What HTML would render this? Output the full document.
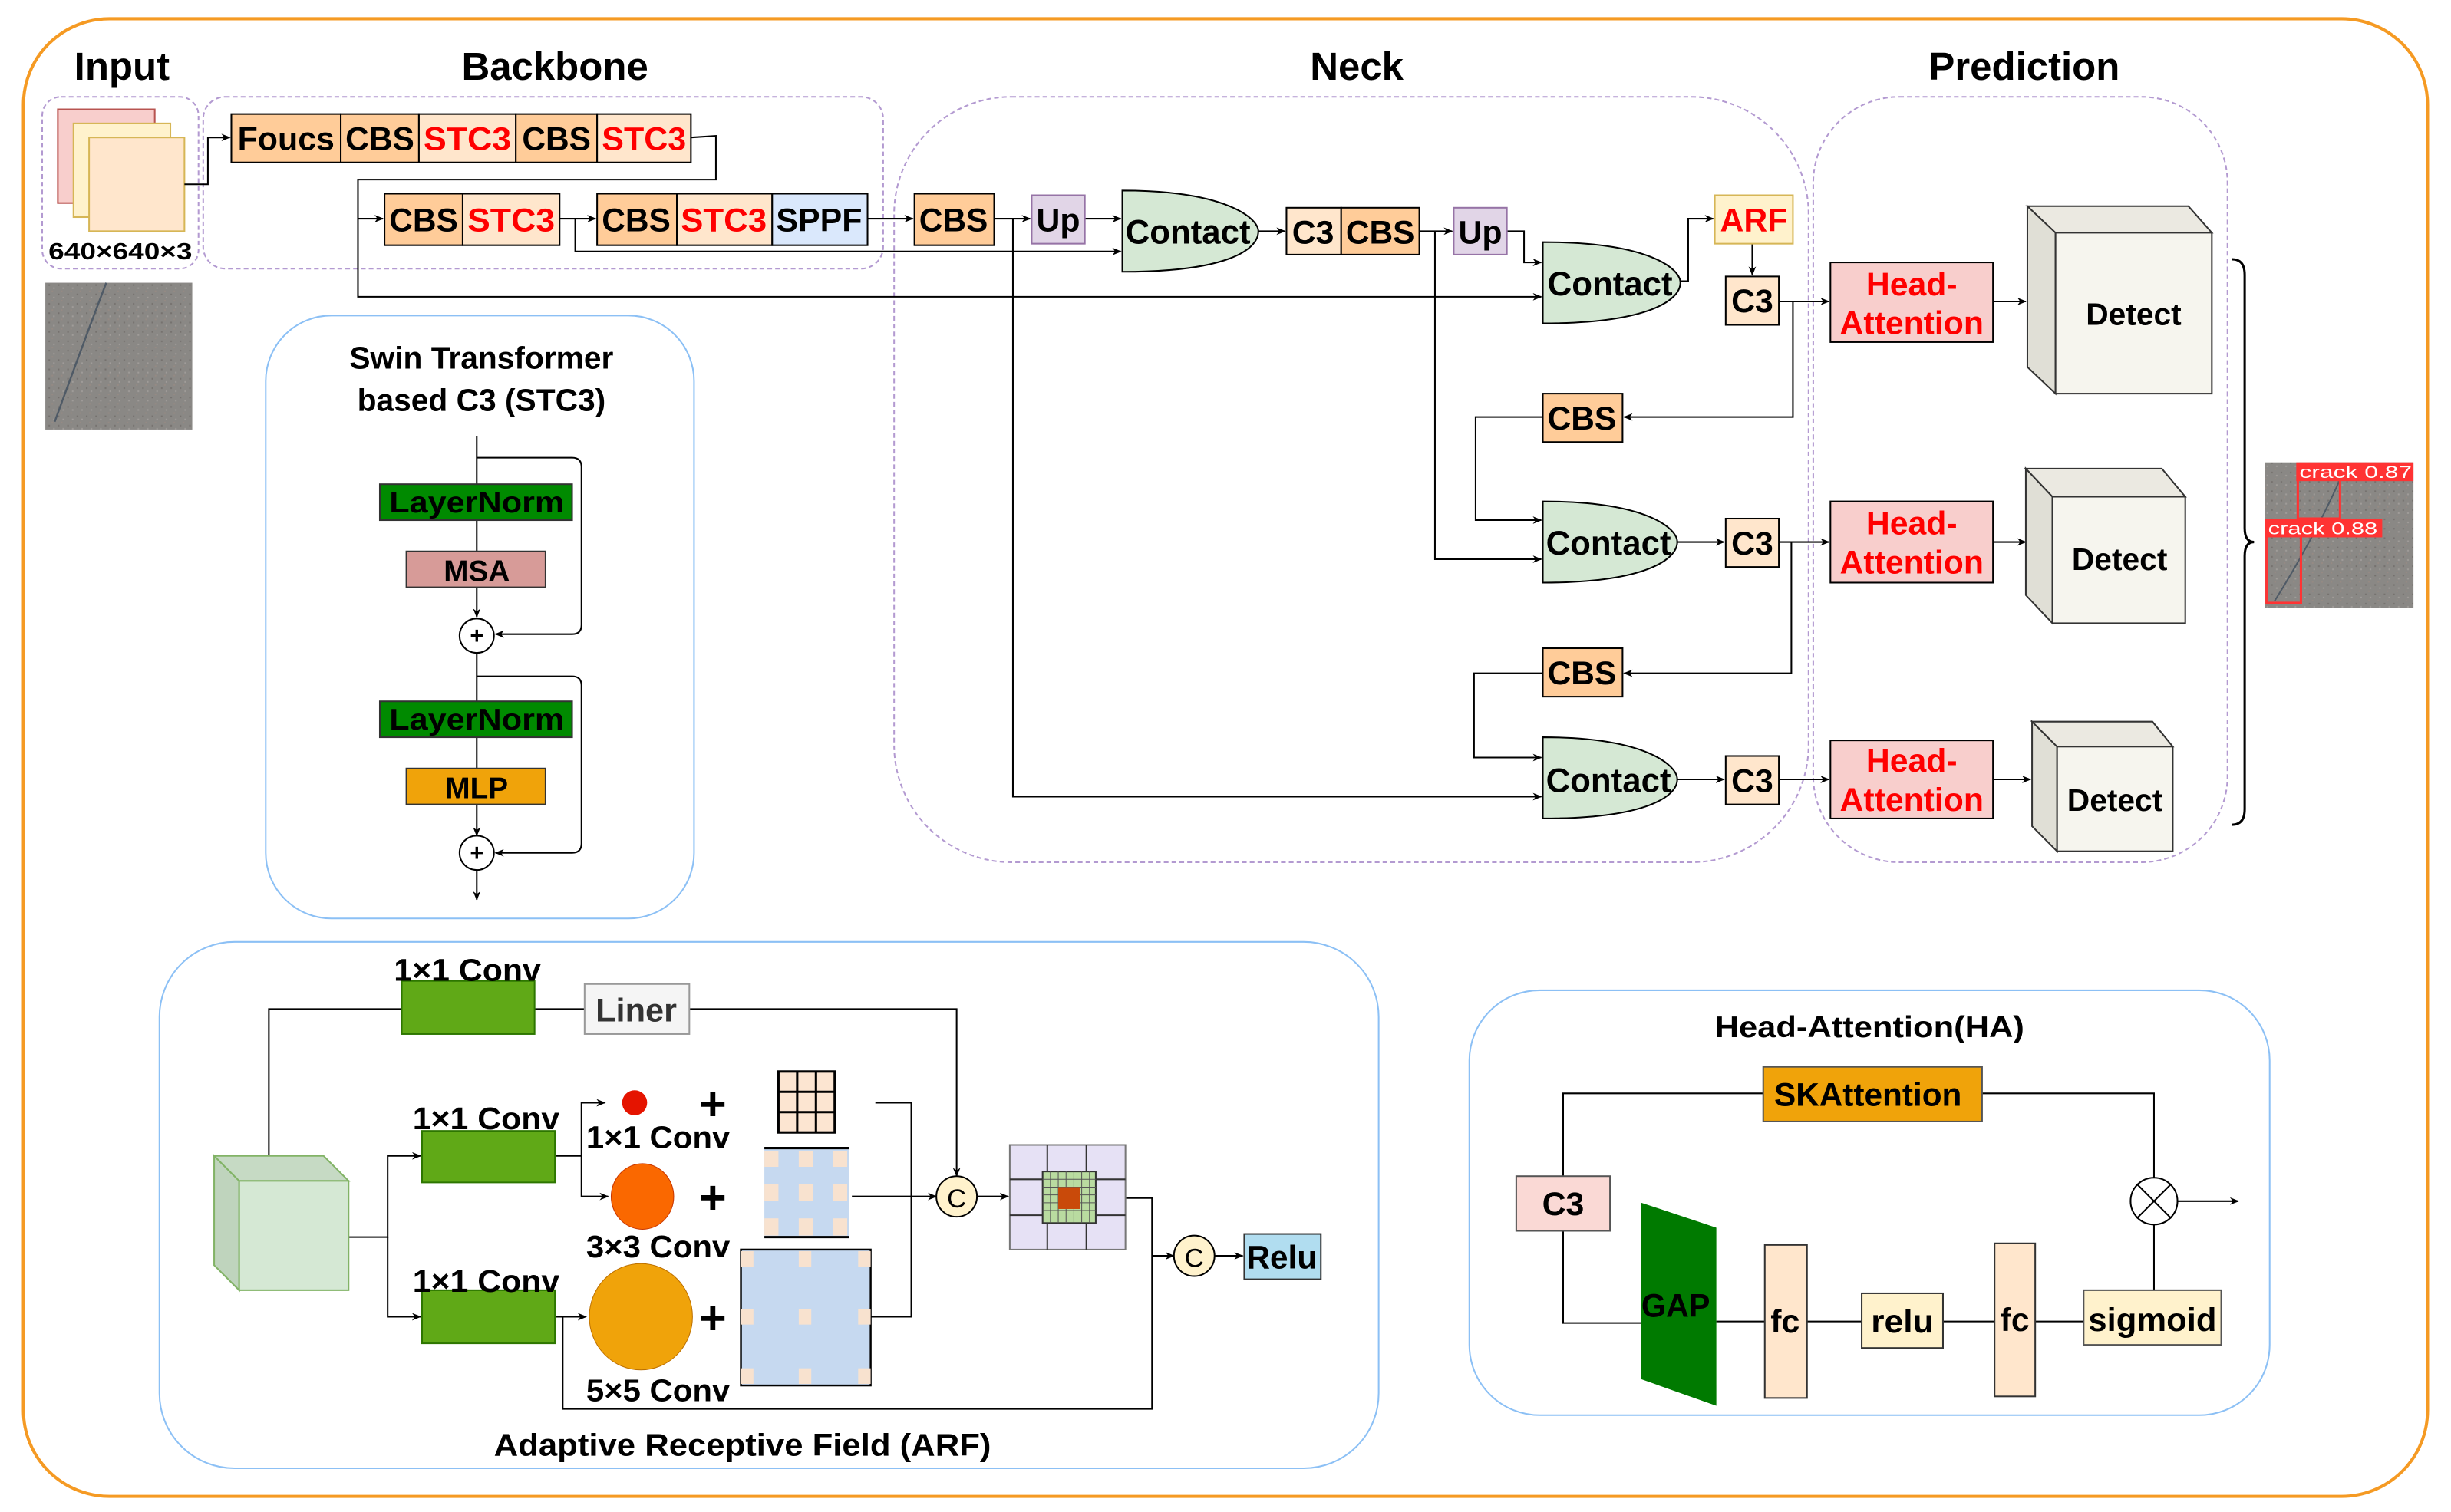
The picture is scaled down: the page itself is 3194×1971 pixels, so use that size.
<!DOCTYPE html>
<html><head><meta charset="utf-8"><style>
html,body{margin:0;padding:0;background:#fff;}
svg{display:block;}
text{font-family:"Liberation Sans Narrow","Liberation Sans",sans-serif;font-weight:bold;}
.w{font-family:"Liberation Sans",sans-serif;}
</style></head><body>
<svg width="3194" height="1971" viewBox="0 0 1568 968" preserveAspectRatio="none" xmlns="http://www.w3.org/2000/svg">
<defs>
<marker id="a" viewBox="0 0 10 10" refX="9" refY="5" markerWidth="6" markerHeight="6" orient="auto"><path d="M0,1 L10,5 L0,9 L3,5 Z" fill="#000"/></marker>
<pattern id="noise" width="6" height="6" patternUnits="userSpaceOnUse"><rect width="6" height="6" fill="#8a8885"/><rect x="1" y="2" width="1" height="1" fill="#75716e"/><rect x="4" y="4" width="1" height="1" fill="#a09c99"/><rect x="3" y="0" width="1" height="1" fill="#958a84"/></pattern>
</defs>
<g fill="none" stroke="#000" stroke-width="1">
<rect x="15" y="12" width="1538" height="946" rx="55" stroke="#f59a23" stroke-width="2"/>
<g stroke="#b39ad1" stroke-dasharray="3,2">
<rect x="27" y="62" width="100" height="110" rx="12"/>
<rect x="130" y="62" width="435" height="110" rx="14"/>
<rect x="572" y="62" width="585" height="490" rx="75"/>
<rect x="1160" y="62" width="265" height="490" rx="55"/>
</g>
<g stroke="#8cc0f5">
<rect x="170" y="202" width="274" height="386" rx="42"/>
<rect x="102" y="603" width="780" height="337" rx="48"/>
<rect x="940" y="634" width="512" height="272" rx="45"/>
</g>
</g>
<g font-size="25" text-anchor="middle">
<text x="78" y="51">Input</text><text x="355" y="51">Backbone</text><text x="868" y="51">Neck</text><text x="1295" y="51">Prediction</text>
</g>
<rect x="37" y="70" width="62" height="60" fill="#f8cecc" stroke="#b85450"/>
<rect x="47" y="79" width="62" height="60" fill="#fff2cc" stroke="#d6b656"/>
<rect x="57" y="88" width="61" height="60" fill="#ffe6cc" stroke="#d6b656"/>
<text x="77" y="166" font-size="15" text-anchor="middle" textLength="92" lengthAdjust="spacingAndGlyphs">640×640×3</text>
<rect x="29" y="181" width="94" height="94" fill="url(#noise)"/>
<path d="M68,181 Q55,215 35,270" stroke="#4f5a66" stroke-width="1.2" fill="none"/>
<g fill="none" stroke="#000" stroke-width="1">
<path d="M118,118 H133 V88 H147" marker-end="url(#a)"/>
<path d="M442,88 L458,87 V115 H229 V140 H245" marker-end="url(#a)"/>
<path d="M229,140 V190 H986" marker-end="url(#a)"/>
<path d="M358,140 H381" marker-end="url(#a)"/>
<path d="M368,140 V161 H717" marker-end="url(#a)"/>
<path d="M555,140 H584" marker-end="url(#a)"/>
<path d="M636,140 H659" marker-end="url(#a)"/>
<path d="M694,140 H717" marker-end="url(#a)"/>
<path d="M648,140 V510 H986" marker-end="url(#a)"/>
<path d="M805,148 H822" marker-end="url(#a)"/>
<path d="M908,148 H929" marker-end="url(#a)"/>
<path d="M918,148 V358 H986" marker-end="url(#a)"/>
<path d="M964,148 H975 V168 H986" marker-end="url(#a)"/>
<path d="M1075,180 H1080 V140 H1096" marker-end="url(#a)"/>
<path d="M1121,156 V176" marker-end="url(#a)"/>
<path d="M1138,193 H1170" marker-end="url(#a)"/>
<path d="M1147,193 V267 H1039" marker-end="url(#a)"/>
<path d="M987,267 H944 V333 H986" marker-end="url(#a)"/>
<path d="M1073,347 H1103" marker-end="url(#a)"/>
<path d="M1138,347 H1170" marker-end="url(#a)"/>
<path d="M1146,347 V431 H1039" marker-end="url(#a)"/>
<path d="M987,431 H943 V485 H986" marker-end="url(#a)"/>
<path d="M1073,499 H1103" marker-end="url(#a)"/>
<path d="M1138,499 H1170" marker-end="url(#a)"/>
<path d="M1275,193 H1296" marker-end="url(#a)"/>
<path d="M1275,347 H1296" marker-end="url(#a)"/>
<path d="M1275,499 H1299" marker-end="url(#a)"/>
<path d="M1428,166 Q1436,166 1436,176 V338 Q1436,347 1442,347 Q1436,347 1436,356 V518 Q1436,528 1428,528" stroke-width="1.5"/>
</g>
<g stroke="#000" stroke-width="1">
<rect x="148" y="73" width="70" height="31" fill="#ffcc99"/>
<rect x="218" y="73" width="50" height="31" fill="#ffcc99"/>
<rect x="268" y="73" width="62" height="31" fill="#ffe6cc"/>
<rect x="330" y="73" width="52" height="31" fill="#ffcc99"/>
<rect x="382" y="73" width="60" height="31" fill="#ffe6cc"/>
<rect x="246" y="124" width="50" height="33" fill="#ffcc99"/>
<rect x="296" y="124" width="62" height="33" fill="#ffe6cc"/>
<rect x="382" y="124" width="51" height="33" fill="#ffcc99"/>
<rect x="433" y="124" width="61" height="33" fill="#ffe6cc"/>
<rect x="494" y="124" width="61" height="33" fill="#dae8fc"/>
<rect x="585" y="124" width="51" height="33" fill="#ffcc99"/>
<rect x="660" y="125" width="34" height="31" fill="#e1d5e7" stroke="#9673a6"/>
<rect x="823" y="133" width="35" height="30" fill="#ffe6cc"/>
<rect x="858" y="133" width="50" height="30" fill="#ffcc99"/>
<rect x="930" y="133" width="34" height="30" fill="#e1d5e7" stroke="#9673a6"/>
<rect x="1097" y="125" width="50" height="31" fill="#fff2cc" stroke="#d6b656"/>
<rect x="1104" y="177" width="34" height="31" fill="#ffe6cc"/>
<rect x="987" y="252" width="51" height="31" fill="#ffcc99"/>
<rect x="1104" y="332" width="34" height="31" fill="#ffe6cc"/>
<rect x="987" y="415" width="51" height="31" fill="#ffcc99"/>
<rect x="1104" y="484" width="34" height="31" fill="#ffe6cc"/>
</g>
<g font-size="21" text-anchor="middle" lengthAdjust="spacingAndGlyphs">
<text x="183" y="96" textLength="62" lengthAdjust="spacingAndGlyphs">Foucs</text>
<text x="243" y="96" textLength="44" lengthAdjust="spacingAndGlyphs">CBS</text>
<text x="299" y="96" fill="#f00" textLength="56" lengthAdjust="spacingAndGlyphs">STC3</text>
<text x="356" y="96" textLength="44" lengthAdjust="spacingAndGlyphs">CBS</text>
<text x="412" y="96" fill="#f00" textLength="54" lengthAdjust="spacingAndGlyphs">STC3</text>
<text x="271" y="148" textLength="44" lengthAdjust="spacingAndGlyphs">CBS</text>
<text x="327" y="148" fill="#f00" textLength="56" lengthAdjust="spacingAndGlyphs">STC3</text>
<text x="407" y="148" textLength="44" lengthAdjust="spacingAndGlyphs">CBS</text>
<text x="463" y="148" fill="#f00" textLength="55" lengthAdjust="spacingAndGlyphs">STC3</text>
<text x="524" y="148" textLength="55" lengthAdjust="spacingAndGlyphs">SPPF</text>
<text x="610" y="148" textLength="44" lengthAdjust="spacingAndGlyphs">CBS</text>
<text x="677" y="148">Up</text>
<text x="840" y="156">C3</text>
<text x="883" y="156" textLength="44" lengthAdjust="spacingAndGlyphs">CBS</text>
<text x="947" y="156">Up</text>
<text x="1122" y="148" fill="#f00">ARF</text>
<text x="1121" y="200">C3</text>
<text x="1012" y="275" textLength="44" lengthAdjust="spacingAndGlyphs">CBS</text>
<text x="1121" y="355">C3</text>
<text x="1012" y="438" textLength="44" lengthAdjust="spacingAndGlyphs">CBS</text>
<text x="1121" y="507">C3</text>
</g>
<g fill="#d5e8d4" stroke="#000" stroke-width="1">
<path d="M718,122 C785,122 805,140 805,148 C805,160 785,174 718,174 Z"/>
<path d="M987,155 C1055,155 1075,172 1075,181 C1075,192 1055,207 987,207 Z"/>
<path d="M987,321 C1053,321 1073,338 1073,347 C1073,358 1053,373 987,373 Z"/>
<path d="M987,472 C1053,472 1073,490 1073,499 C1073,510 1053,524 987,524 Z"/>
</g>
<g font-size="22" text-anchor="middle">
<text x="760" y="156" textLength="80" lengthAdjust="spacingAndGlyphs">Contact</text><text x="1030" y="189" textLength="80" lengthAdjust="spacingAndGlyphs">Contact</text><text x="1029" y="355" textLength="80" lengthAdjust="spacingAndGlyphs">Contact</text><text x="1029" y="507" textLength="80" lengthAdjust="spacingAndGlyphs">Contact</text>
</g>
<g stroke="#000" fill="#f8cecc">
<rect x="1171" y="168" width="104" height="51"/><rect x="1171" y="321" width="104" height="52"/><rect x="1171" y="474" width="104" height="50"/>
</g>
<g font-size="21" text-anchor="middle" fill="#f00">
<text x="1223" y="189">Head-</text><text x="1223" y="214" textLength="92" lengthAdjust="spacingAndGlyphs">Attention</text>
<text x="1223" y="342">Head-</text><text x="1223" y="367" textLength="92" lengthAdjust="spacingAndGlyphs">Attention</text>
<text x="1223" y="494">Head-</text><text x="1223" y="519" textLength="92" lengthAdjust="spacingAndGlyphs">Attention</text>
</g>
<g stroke="#333" stroke-width="1">
<path d="M1297,132 L1315,149 V252 L1297,235 Z" fill="#e0dfd6"/><path d="M1297,132 H1400 L1415,149 H1315 Z" fill="#ebe9e1"/><rect x="1315" y="149" width="100" height="103" fill="#f6f5ee"/>
<path d="M1296,300 L1313,318 V399 L1296,381 Z" fill="#e0dfd6"/><path d="M1296,300 H1383 L1398,318 H1313 Z" fill="#ebe9e1"/><rect x="1313" y="318" width="85" height="81" fill="#f6f5ee"/>
<path d="M1300,462 L1316,478 V545 L1300,529 Z" fill="#e0dfd6"/><path d="M1300,462 H1377 L1390,478 H1316 Z" fill="#ebe9e1"/><rect x="1316" y="478" width="74" height="67" fill="#f6f5ee"/>
</g>
<g font-size="20" text-anchor="middle">
<text class="w" x="1365" y="208">Detect</text><text class="w" x="1356" y="365">Detect</text><text class="w" x="1353" y="519">Detect</text>
</g>
<rect x="1449" y="296" width="95" height="93" fill="url(#noise)"/>
<path d="M1497,307 Q1480,345 1455,385" stroke="#4f5a66" stroke-width="1" fill="none"/>
<g fill="none" stroke="#f33" stroke-width="1.5"><rect x="1470" y="307" width="27" height="25"/><rect x="1450" y="343" width="22" height="43"/></g>
<rect x="1469" y="296" width="75" height="12" fill="#f33"/><rect x="1449" y="332" width="75" height="12" fill="#f33"/>
<g font-size="11" fill="#fff"><text class="w" x="1471" y="306" style="font-weight:normal" textLength="72" lengthAdjust="spacingAndGlyphs">crack 0.87</text><text class="w" x="1451" y="342" style="font-weight:normal" textLength="70" lengthAdjust="spacingAndGlyphs">crack 0.88</text></g>

<g font-size="20" text-anchor="middle"><text class="w" x="308" y="236">Swin Transformer</text><text class="w" x="308" y="263">based C3 (STC3)</text></g>
<g fill="none" stroke="#000">
<path d="M305,279 V395" marker-end="url(#a)"/>
<path d="M305,293 H366 Q372,293 372,299 V400 Q372,406 366,406 H317" marker-end="url(#a)"/>
<path d="M305,418 V535" marker-end="url(#a)"/>
<path d="M305,433 H366 Q372,433 372,439 V540 Q372,546 366,546 H317" marker-end="url(#a)"/>
<path d="M305,557 V576" marker-end="url(#a)"/>
<circle cx="305" cy="407" r="11" fill="#fff"/><circle cx="305" cy="546" r="11" fill="#fff"/>
</g>
<g font-size="15" text-anchor="middle"><text class="w" x="305" y="412">+</text><text class="w" x="305" y="551">+</text></g>
<g stroke="#333">
<rect x="243" y="310" width="123" height="23" fill="#008a00"/><rect x="260" y="353" width="89" height="23" fill="#d79b98"/>
<rect x="243" y="449" width="123" height="23" fill="#008a00"/><rect x="260" y="492" width="89" height="23" fill="#f0a30a"/>
</g>
<g font-size="19" text-anchor="middle"><text class="w" x="305" y="328" textLength="112" lengthAdjust="spacingAndGlyphs">LayerNorm</text><text class="w" x="305" y="372">MSA</text><text class="w" x="305" y="467" textLength="112" lengthAdjust="spacingAndGlyphs">LayerNorm</text><text class="w" x="305" y="511">MLP</text></g>

<g fill="none" stroke="#000">
<path d="M172,740 V646 H257"/><path d="M342,646 H374"/>
<path d="M441,646 H612 V753" marker-end="url(#a)"/>
<path d="M223,792 H248 V740 H269" marker-end="url(#a)"/><path d="M248,792 V843 H269" marker-end="url(#a)"/>
<path d="M355,740 H372 V706 H387" marker-end="url(#a)"/><path d="M372,740 V766 H389" marker-end="url(#a)"/>
<path d="M355,843 H375" marker-end="url(#a)"/>
<path d="M360,843 V902 H737 V767 H720"/>
<path d="M560,706 H583 V843 H557"/>
<path d="M545,766 H599" marker-end="url(#a)"/>
<path d="M625,766 H645" marker-end="url(#a)"/>
<path d="M737,804 H751" marker-end="url(#a)"/>
<path d="M777,804 H795" marker-end="url(#a)"/>
</g>
<path d="M137,740 L153,756 V826 L137,810 Z" fill="#bfd4bd" stroke="#82b366"/><path d="M137,740 H207 L223,756 H153 Z" fill="#c6dac4" stroke="#82b366"/>
<rect x="153" y="756" width="70" height="70" fill="#d5e8d4" stroke="#82b366"/>
<g fill="#60a917" stroke="#2d7600"><rect x="257" y="628" width="85" height="34"/><rect x="270" y="724" width="85" height="33"/><rect x="270" y="826" width="85" height="34"/></g>
<rect x="374" y="630" width="67" height="32" fill="#f5f5f5" stroke="#999"/>
<text x="407" y="654" font-size="21" text-anchor="middle" fill="#333" textLength="52" lengthAdjust="spacingAndGlyphs">Liner</text>
<g font-size="20" text-anchor="middle">
<text x="299" y="628" textLength="94" lengthAdjust="spacingAndGlyphs">1×1 Conv</text><text x="311" y="723" textLength="94" lengthAdjust="spacingAndGlyphs">1×1 Conv</text><text x="311" y="827" textLength="94" lengthAdjust="spacingAndGlyphs">1×1 Conv</text>
<text x="421" y="735" textLength="92" lengthAdjust="spacingAndGlyphs">1×1 Conv</text><text x="421" y="805" textLength="92" lengthAdjust="spacingAndGlyphs">3×3 Conv</text><text x="421" y="897" textLength="92" lengthAdjust="spacingAndGlyphs">5×5 Conv</text>
</g>
<ellipse cx="406" cy="706" rx="8" ry="8" fill="#e51400"/>
<ellipse cx="411" cy="766" rx="20" ry="21" fill="#fa6800" stroke="#c73500" stroke-width=".5"/>
<ellipse cx="410" cy="843" rx="33" ry="34" fill="#f0a30a" stroke="#bd7000" stroke-width=".5"/>
<g font-size="30" text-anchor="middle"><text class="w" x="456" y="717">+</text><text class="w" x="456" y="777">+</text><text class="w" x="456" y="854">+</text></g>
<rect x="498" y="686" width="36" height="39" fill="#fce5d1" stroke="#000" stroke-width="1.5"/>
<path d="M510,686 V725 M522,686 V725 M498,699 H534 M498,712 H534" stroke="#000" stroke-width="1.5"/>
<rect x="489" y="735" width="54" height="57" fill="#c6d9f0"/>
<path d="M489,735 H543 M489,792 H543" stroke="#000" stroke-width="1.5"/>
<g fill="#f8e2cf"><rect x="489" y="737" width="9" height="10"/><rect x="511" y="737" width="9" height="10"/><rect x="533" y="737" width="9" height="10"/>
<rect x="489" y="758" width="9" height="11"/><rect x="511" y="758" width="9" height="11"/><rect x="533" y="758" width="9" height="11"/>
<rect x="489" y="780" width="9" height="11"/><rect x="511" y="780" width="9" height="11"/><rect x="533" y="780" width="9" height="11"/></g>
<rect x="474" y="800" width="83" height="87" fill="#c6d9f0" stroke="#000" stroke-width="1.2"/>
<g fill="#f8e2cf"><rect x="474" y="801" width="8" height="10"/><rect x="511" y="801" width="8" height="10"/><rect x="549" y="801" width="8" height="10"/>
<rect x="474" y="838" width="8" height="10"/><rect x="511" y="838" width="8" height="10"/><rect x="549" y="838" width="8" height="10"/>
<rect x="474" y="876" width="8" height="10"/><rect x="511" y="876" width="8" height="10"/><rect x="549" y="876" width="8" height="10"/></g>
<rect x="646" y="733" width="74" height="67" fill="#e6e1f5" stroke="#777"/>
<path d="M670,733 V800 M695,733 V800 M646,755 H720 M646,778 H720" stroke="#333"/>
<rect x="667" y="750" width="34" height="33" fill="#b9dba0" stroke="#333"/>
<path d="M672,750 V783 M677,750 V783 M682,750 V783 M687,750 V783 M692,750 V783 M697,750 V783 M667,755 H701 M667,760 H701 M667,765 H701 M667,770 H701 M667,775 H701" stroke="#555" stroke-width=".5"/>
<rect x="677" y="760" width="14" height="14" fill="#c94a0a"/>
<ellipse cx="612" cy="766" rx="13" ry="13" fill="#fff2cc" stroke="#000"/><text class="w" x="612" y="773" font-size="17" text-anchor="middle" style="font-weight:normal">C</text>
<ellipse cx="764" cy="804" rx="13" ry="13" fill="#fff2cc" stroke="#000"/><text class="w" x="764" y="811" font-size="17" text-anchor="middle" style="font-weight:normal">C</text>
<rect x="796" y="790" width="49" height="29" fill="#b1ddf0" stroke="#333"/><text x="820" y="812" font-size="21" text-anchor="middle" textLength="45" lengthAdjust="spacingAndGlyphs">Relu</text>
<text x="475" y="932" font-size="20" text-anchor="middle" class="w" textLength="318" lengthAdjust="spacingAndGlyphs">Adaptive Receptive Field (ARF)</text>

<text x="1196" y="664" font-size="19" text-anchor="middle" textLength="198" lengthAdjust="spacingAndGlyphs">Head-Attention(HA)</text>
<g fill="none" stroke="#000">
<path d="M1000,753 V700 H1128 M1268,700 H1378 V754"/>
<path d="M1393,769 H1432" marker-end="url(#a)"/>
<path d="M1000,788 V847 H1050"/>
<path d="M1098,846 H1129 M1156,846 H1191 M1243,846 H1276 M1302,846 H1333"/>
<path d="M1378,826 V784"/>
</g>
<rect x="1128" y="683" width="140" height="35" fill="#f0a30a" stroke="#555"/><text x="1195" y="708" font-size="21" text-anchor="middle" textLength="120" lengthAdjust="spacingAndGlyphs">SKAttention</text>
<ellipse cx="1378" cy="769" rx="15" ry="15" fill="#fff" stroke="#000"/>
<path d="M1367,758 L1389,780 M1389,758 L1367,780" stroke="#000"/>
<rect x="970" y="753" width="60" height="35" fill="#fad9d5" stroke="#555"/><text x="1000" y="778" font-size="21" text-anchor="middle">C3</text>
<path d="M1050,770 L1098,786 V900 L1050,883 Z" fill="#007a00"/><text x="1072" y="843" font-size="21" text-anchor="middle" textLength="44" lengthAdjust="spacingAndGlyphs">GAP</text>
<rect x="1129" y="797" width="27" height="98" fill="#ffe6cc" stroke="#333"/><text x="1142" y="853" font-size="21" text-anchor="middle">fc</text>
<rect x="1191" y="828" width="52" height="35" fill="#fff2cc" stroke="#333"/><text x="1217" y="853" font-size="21" text-anchor="middle" textLength="40" lengthAdjust="spacingAndGlyphs">relu</text>
<rect x="1276" y="796" width="26" height="98" fill="#ffe6cc" stroke="#333"/><text x="1289" y="852" font-size="21" text-anchor="middle">fc</text>
<rect x="1333" y="826" width="88" height="35" fill="#fff2cc" stroke="#555"/><text x="1377" y="852" font-size="21" text-anchor="middle" textLength="82" lengthAdjust="spacingAndGlyphs">sigmoid</text>
</svg>
</body></html>
